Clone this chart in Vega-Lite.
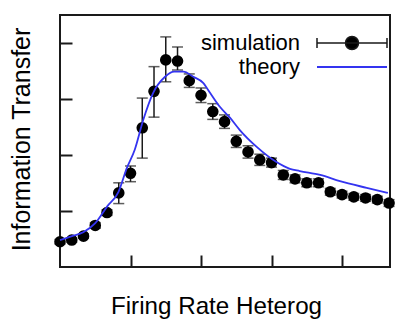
{
  "$schema": "https://vega.github.io/schema/vega-lite/v6.json",
  "width": 330,
  "height": 252,
  "autosize": {"type": "none"},
  "padding": {"left": 60, "top": 15, "right": 6, "bottom": 53},
  "background": "white",
  "config": {"view": {"stroke": "#1a1a1a", "strokeWidth": 2}, "font": "Liberation Sans"},
  "datasets": {
    "sim": [
      {"series": "simulation", "x": 0, "y": 0.45, "lo": 0.41, "hi": 0.49},
      {"series": "simulation", "x": 0.1667, "y": 0.48, "lo": 0.44, "hi": 0.52},
      {"series": "simulation", "x": 0.3333, "y": 0.55, "lo": 0.51, "hi": 0.59},
      {"series": "simulation", "x": 0.5, "y": 0.74, "lo": 0.69, "hi": 0.79},
      {"series": "simulation", "x": 0.6667, "y": 0.97, "lo": 0.92, "hi": 1.02},
      {"series": "simulation", "x": 0.8333, "y": 1.32, "lo": 1.13, "hi": 1.5},
      {"series": "simulation", "x": 1.0, "y": 1.67, "lo": 1.52, "hi": 1.8},
      {"series": "simulation", "x": 1.1667, "y": 2.48, "lo": 1.94, "hi": 3.01},
      {"series": "simulation", "x": 1.3333, "y": 3.13, "lo": 2.67, "hi": 3.57},
      {"series": "simulation", "x": 1.5, "y": 3.69, "lo": 3.3, "hi": 4.1},
      {"series": "simulation", "x": 1.6667, "y": 3.67, "lo": 3.51, "hi": 3.92},
      {"series": "simulation", "x": 1.8333, "y": 3.32, "lo": 3.2, "hi": 3.44},
      {"series": "simulation", "x": 2.0, "y": 3.06, "lo": 2.93, "hi": 3.19},
      {"series": "simulation", "x": 2.1667, "y": 2.77, "lo": 2.63, "hi": 2.91},
      {"series": "simulation", "x": 2.3333, "y": 2.59, "lo": 2.47, "hi": 2.71},
      {"series": "simulation", "x": 2.5, "y": 2.24, "lo": 2.13, "hi": 2.35},
      {"series": "simulation", "x": 2.6667, "y": 2.05, "lo": 1.94, "hi": 2.16},
      {"series": "simulation", "x": 2.8333, "y": 1.91, "lo": 1.81, "hi": 2.01},
      {"series": "simulation", "x": 3.0, "y": 1.86, "lo": 1.78, "hi": 1.94},
      {"series": "simulation", "x": 3.1667, "y": 1.64, "lo": 1.56, "hi": 1.72},
      {"series": "simulation", "x": 3.3333, "y": 1.57, "lo": 1.5, "hi": 1.64},
      {"series": "simulation", "x": 3.5, "y": 1.5, "lo": 1.43, "hi": 1.57},
      {"series": "simulation", "x": 3.6667, "y": 1.5, "lo": 1.43, "hi": 1.57},
      {"series": "simulation", "x": 3.8333, "y": 1.34, "lo": 1.28, "hi": 1.4},
      {"series": "simulation", "x": 4.0, "y": 1.29, "lo": 1.23, "hi": 1.35},
      {"series": "simulation", "x": 4.1667, "y": 1.25, "lo": 1.19, "hi": 1.31},
      {"series": "simulation", "x": 4.3333, "y": 1.23, "lo": 1.17, "hi": 1.29},
      {"series": "simulation", "x": 4.5, "y": 1.2, "lo": 1.14, "hi": 1.26},
      {"series": "simulation", "x": 4.6667, "y": 1.14, "lo": 1.08, "hi": 1.2}
    ],
    "theory": [
      {"series": "theory", "x": 0, "y": 0.48},
      {"series": "theory", "x": 0.17, "y": 0.55},
      {"series": "theory", "x": 0.33, "y": 0.62},
      {"series": "theory", "x": 0.5, "y": 0.78},
      {"series": "theory", "x": 0.67, "y": 1.08},
      {"series": "theory", "x": 0.83, "y": 1.34},
      {"series": "theory", "x": 0.95, "y": 1.77},
      {"series": "theory", "x": 1.06, "y": 2.09},
      {"series": "theory", "x": 1.18, "y": 2.62},
      {"series": "theory", "x": 1.32, "y": 3.1},
      {"series": "theory", "x": 1.49, "y": 3.39},
      {"series": "theory", "x": 1.62, "y": 3.48},
      {"series": "theory", "x": 1.75, "y": 3.48},
      {"series": "theory", "x": 1.89, "y": 3.39},
      {"series": "theory", "x": 2.03, "y": 3.28},
      {"series": "theory", "x": 2.13, "y": 3.1},
      {"series": "theory", "x": 2.27, "y": 2.85},
      {"series": "theory", "x": 2.41, "y": 2.66},
      {"series": "theory", "x": 2.55, "y": 2.44},
      {"series": "theory", "x": 2.79, "y": 2.14},
      {"series": "theory", "x": 3.07, "y": 1.87},
      {"series": "theory", "x": 3.26, "y": 1.75},
      {"series": "theory", "x": 3.4, "y": 1.71},
      {"series": "theory", "x": 3.69, "y": 1.64},
      {"series": "theory", "x": 3.97, "y": 1.53},
      {"series": "theory", "x": 4.35, "y": 1.41},
      {"series": "theory", "x": 4.65, "y": 1.32}
    ]
  },
  "layer": [
    {
      "data": {"name": "sim"},
      "mark": {"type": "rule", "color": "#1a1a1a", "strokeWidth": 1.5},
      "encoding": {
        "x": {"field": "x", "type": "quantitative",
          "scale": {"domain": [0, 4.68], "nice": false, "zero": false},
          "axis": {"values": [1, 2, 3, 4], "labels": false, "tickSize": -12, "tickWidth": 2, "tickColor": "#1a1a1a", "domain": false, "grid": false,
            "title": "Firing Rate Heterog", "titleFontSize": 24.2, "titleFont": "Liberation Sans", "titleFontWeight": "normal", "titleColor": "#000000",
            "titleX": 156, "titleY": 46, "titleBaseline": "alphabetic", "titleAlign": "center"}},
        "y": {"field": "lo", "type": "quantitative",
          "scale": {"domain": [0, 4.49], "nice": false, "zero": false},
          "axis": {"values": [1, 2, 3, 4], "labels": false, "tickSize": -12, "tickWidth": 2, "tickColor": "#1a1a1a", "domain": false, "grid": false,
            "title": "Information Transfer", "titleFontSize": 25, "titleFont": "Liberation Sans", "titleFontWeight": "normal", "titleColor": "#000000",
            "titleX": -39, "titleY": 124, "titleBaseline": "middle", "titleAlign": "center", "titleAngle": -90}},
        "y2": {"field": "hi"}
      }
    },
    {
      "data": {"name": "sim"},
      "mark": {"type": "tick", "orient": "horizontal", "size": 11, "thickness": 1.5, "color": "#1a1a1a"},
      "encoding": {
        "x": {"field": "x", "type": "quantitative"},
        "y": {"field": "lo", "type": "quantitative"}
      }
    },
    {
      "data": {"name": "sim"},
      "mark": {"type": "tick", "orient": "horizontal", "size": 11, "thickness": 1.5, "color": "#1a1a1a"},
      "encoding": {
        "x": {"field": "x", "type": "quantitative"},
        "y": {"field": "hi", "type": "quantitative"}
      }
    },
    {
      "data": {"name": "sim"},
      "mark": {"type": "point", "filled": true, "size": 135, "opacity": 1, "shape": "circle"},
      "encoding": {
        "x": {"field": "x", "type": "quantitative"},
        "y": {"field": "y", "type": "quantitative"},
        "fill": {"field": "series", "type": "nominal",
          "scale": {"domain": ["simulation"], "range": ["#000000"]},
          "legend": {"title": null, "orient": "none", "legendX": 256, "legendY": -8, "padding": 0,
            "symbolType": "M-1,0H1M-1,-0.14V0.14M1,-0.14V0.14M0.186,0A0.186,0.186,0,1,1,-0.186,0A0.186,0.186,0,1,1,0.186,0Z",
            "symbolSize": 4900, "symbolStrokeWidth": 1.5, "symbolStrokeColor": "#1a1a1a", "symbolOpacity": 1,
            "labelAlign": "right", "labelOffset": -88,
            "labelFontSize": 22, "labelFont": "Liberation Sans", "labelColor": "#000000", "labelLimit": 300}}
      }
    },
    {
      "data": {"name": "theory"},
      "mark": {"type": "line", "strokeWidth": 1.8, "interpolate": "monotone"},
      "encoding": {
        "x": {"field": "x", "type": "quantitative"},
        "y": {"field": "y", "type": "quantitative"},
        "stroke": {"field": "series", "type": "nominal",
          "scale": {"domain": ["theory"], "range": ["#3434f0"]},
          "legend": {"title": null, "orient": "none", "legendX": 256, "legendY": 16, "padding": 0,
            "symbolType": "M-1,0H1", "symbolSize": 4900, "symbolStrokeWidth": 1.8,
            "labelAlign": "right", "labelOffset": -88,
            "labelFontSize": 22, "labelFont": "Liberation Sans", "labelColor": "#000000", "labelLimit": 300}}
      }
    }
  ]
}
